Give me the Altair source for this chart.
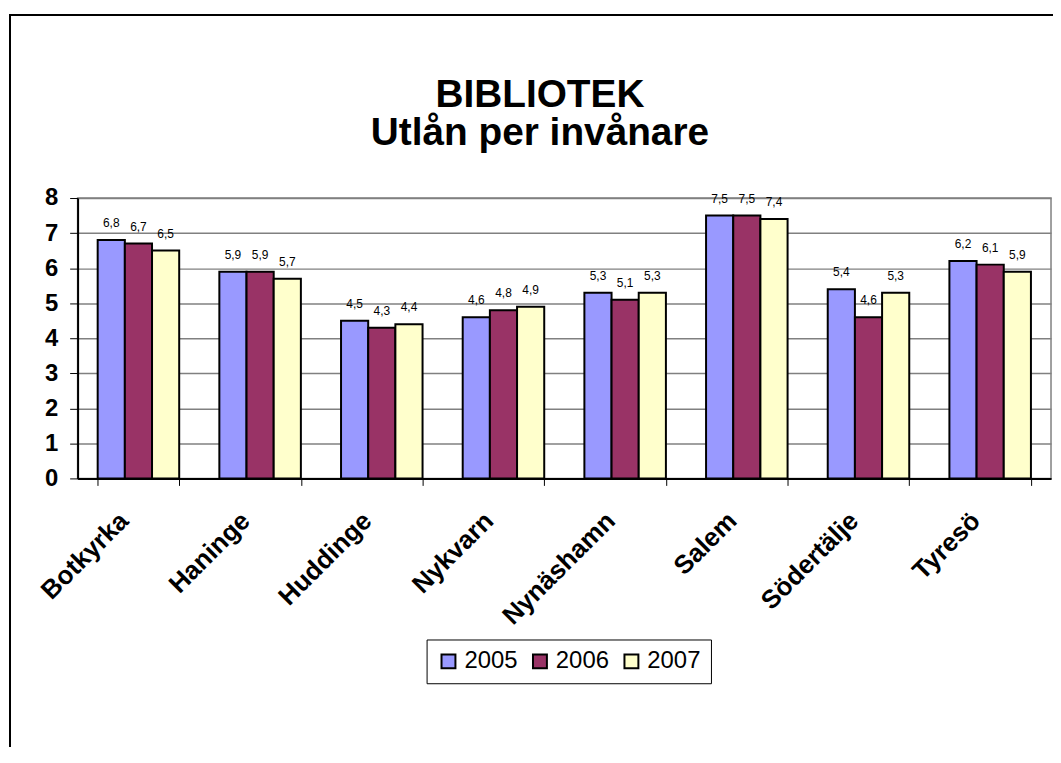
import altair as alt
import pandas as pd

kommuner = ["Botkyrka", "Haninge", "Huddinge", "Nykvarn", "Nynäshamn", "Salem", "Södertälje", "Tyresö"]
years = ["2005", "2006", "2007"]
v2005 = [6.8, 5.9, 4.5, 4.6, 5.3, 7.5, 5.4, 6.2]
v2006 = [6.7, 5.9, 4.3, 4.8, 5.1, 7.5, 4.6, 6.1]
v2007 = [6.5, 5.7, 4.4, 4.9, 5.3, 7.4, 5.3, 5.9]
colors = ["#9999FF", "#993366", "#FFFFCC"]
y_ticks = [0, 1, 2, 3, 4, 5, 6, 7, 8]
title_lines = ["BIBLIOTEK", "Utlån per invånare"]

rows = []
for k, a, b, c in zip(kommuner, v2005, v2006, v2007):
    for yr, v in zip(years, [a, b, c]):
        rows.append({"kommun": k, "year": yr, "value": v})
df = pd.DataFrame(rows)

FONT = "Liberation Sans"
W, H = 979, 282

x = alt.X(
    "kommun:N", sort=kommuner,
    scale=alt.Scale(paddingInner=0.33, paddingOuter=0.165),
    axis=alt.Axis(title=None, labelAngle=-45, labelAlign="right", labelBaseline="top",
                  labelFontSize=26, labelFontWeight="bold", labelFont=FONT, labelColor="black",
                  labelOffset=-24, labelPadding=22, tickBand="extent", tickSize=7,
                  tickColor="black", tickWidth=1, domainColor="black", domainWidth=2, grid=False),
)
y = alt.Y(
    "value:Q", scale=alt.Scale(domain=[0, 8], nice=False),
    axis=alt.Axis(title=None, values=y_ticks, format="d", labelFontSize=24, labelFontWeight="bold",
                  labelFont=FONT, labelColor="black", tickSize=8, labelPadding=12,
                  tickColor="black", grid=True, gridColor="#808080", gridWidth=1.5,
                  domainColor="black", domainWidth=2),
)
xoff = alt.XOffset("year:N", sort=years, scale=alt.Scale(paddingInner=0, paddingOuter=0))

frame = alt.Chart(df).mark_rect(fill="white", fillOpacity=0, stroke="black", strokeWidth=1.5).encode(
    x=alt.value(-68), x2=alt.value(3000), y=alt.value(-184), y2=alt.value(3000)
)

title1 = alt.Chart(pd.DataFrame({"t": [title_lines[0]]})).mark_text(
    font=FONT, fontSize=39, fontWeight="bold", color="black", align="center", baseline="alphabetic"
).encode(x=alt.value(465), y=alt.value(-92), text="t:N")
title2 = alt.Chart(pd.DataFrame({"t": [title_lines[1]]})).mark_text(
    font=FONT, fontSize=39, fontWeight="bold", color="black", align="center", baseline="alphabetic"
).encode(x=alt.value(465), y=alt.value(-53), text="t:N")

bars = alt.Chart(df).mark_bar(stroke="black", strokeWidth=2).encode(
    x=x, xOffset=xoff, y=y,
    color=alt.Color("year:N", scale=alt.Scale(domain=years, range=colors),
                    legend=alt.Legend(title=None, orient="none", legendX=351, legendY=444,
                                      direction="horizontal", symbolType="square", symbolSize=196,
                                      symbolStrokeColor="black", symbolStrokeWidth=2,
                                      labelFontSize=24, labelFont=FONT, labelColor="black",
                                      strokeColor="black", fillColor="white", padding=10,
                                      columnPadding=10, labelOffset=4, symbolOpacity=1)),
)

labels = alt.Chart(df).transform_calculate(
    label="replace(format(datum.value, '.1f'), '.', ',')"
).mark_text(fontSize=12, font=FONT, baseline="bottom", dy=-10, color="black").encode(
    x=x, xOffset=xoff, y=y, text="label:N"
)

chart = alt.layer(frame, title1, title2, bars, labels).properties(
    width=W, height=H,
    padding={"left": 70, "top": 189, "right": 2, "bottom": 268},
    autosize=alt.AutoSizeParams(type="none"),
).configure_view(stroke="#808080", strokeWidth=1.5)

chart.save("out.html", embed_options={"renderer": "svg", "actions": False})
